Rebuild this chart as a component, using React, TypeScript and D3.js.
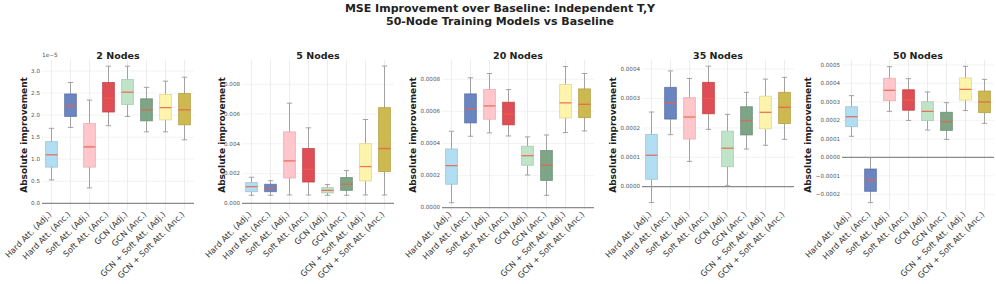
import React from "react";
import * as d3 from "d3";

const categories = [
  "Hard Att. (Adj.)",
  "Hard Att. (Anc.)",
  "Soft Att. (Adj.)",
  "Soft Att. (Anc.)",
  "GCN (Adj.)",
  "GCN (Anc.)",
  "GCN + Soft Att. (Adj.)",
  "GCN + Soft Att. (Anc.)",
];

const fillColors = ["#a9daf1", "#5b78b9", "#ffc0c7", "#dc3b41", "#b9e1c2", "#6f9b79", "#fff3a3", "#c8b13c"];
const edgeColors = ["#8fb8cc", "#4a64a0", "#e0a3aa", "#b83035", "#9cc2a4", "#5b8165", "#d9cd86", "#a69230"];

const panelTitles = ["2 Nodes", "5 Nodes", "20 Nodes", "35 Nodes", "50 Nodes"];

// [whisker low, Q1, median, Q3, whisker high]
const nodes2Stats = [
  [0.53e-5, 0.82e-5, 1.1e-5, 1.4e-5, 1.7e-5],
  [1.72e-5, 1.97e-5, 2.21e-5, 2.48e-5, 2.74e-5],
  [0.35e-5, 0.82e-5, 1.28e-5, 1.81e-5, 2.34e-5],
  [1.76e-5, 2.07e-5, 2.38e-5, 2.74e-5, 3.11e-5],
  [1.97e-5, 2.24e-5, 2.52e-5, 2.81e-5, 3.11e-5],
  [1.62e-5, 1.87e-5, 2.12e-5, 2.37e-5, 2.63e-5],
  [1.62e-5, 1.89e-5, 2.17e-5, 2.47e-5, 2.77e-5],
  [1.44e-5, 1.78e-5, 2.12e-5, 2.49e-5, 2.86e-5],
];
const nodes5Stats = [
  [0.00054, 0.00078, 0.00112, 0.00139, 0.00175],
  [0.00054, 0.00078, 0.00101, 0.00128, 0.00152],
  [0.00056, 0.0017, 0.00285, 0.0048, 0.00673],
  [0.00056, 0.00143, 0.00229, 0.00368, 0.00507],
  [0.00054, 0.0007, 0.00087, 0.00105, 0.00126],
  [0.00054, 0.00087, 0.00128, 0.00173, 0.0022],
  [0.00056, 0.0015, 0.00247, 0.00401, 0.00563],
  [0.00056, 0.00213, 0.00368, 0.00643, 0.00922],
];
const nodes20Stats = [
  [0.000031, 0.000146, 0.000262, 0.000366, 0.000476],
  [0.000445, 0.000528, 0.000615, 0.000709, 0.000809],
  [0.000466, 0.000551, 0.000634, 0.000736, 0.000836],
  [0.000447, 0.000516, 0.000582, 0.000657, 0.000736],
  [0.000204, 0.000264, 0.000324, 0.000383, 0.000441],
  [0.000077, 0.00017, 0.000264, 0.000356, 0.000453],
  [0.000468, 0.000559, 0.000653, 0.000767, 0.000879],
  [0.000478, 0.000561, 0.000644, 0.00074, 0.000836],
];
const nodes35Stats = [
  [-0.000054, 0.000025, 0.000107, 0.000178, 0.000254],
  [0.000177, 0.00023, 0.000284, 0.000338, 0.000394],
  [0.000086, 0.000162, 0.000237, 0.000303, 0.000368],
  [0.000195, 0.000248, 0.0003, 0.000355, 0.00041],
  [0.000003, 0.000068, 0.000131, 0.000189, 0.000246],
  [0.000128, 0.000176, 0.000225, 0.000272, 0.000321],
  [0.000141, 0.000197, 0.000253, 0.000308, 0.000366],
  [0.000161, 0.000215, 0.00027, 0.000321, 0.000372],
];
const nodes50Stats = [
  [0.000114, 0.000166, 0.00022, 0.000274, 0.000334],
  [-0.000245, -0.000184, -0.000123, -0.000063, -0.000002],
  [0.000249, 0.000307, 0.000363, 0.000428, 0.000491],
  [0.0002, 0.000255, 0.00031, 0.000366, 0.000426],
  [0.000148, 0.000199, 0.000249, 0.000301, 0.000354],
  [0.000097, 0.000146, 0.000193, 0.000244, 0.000296],
  [0.000253, 0.00031, 0.000368, 0.00043, 0.000493],
  [0.000184, 0.000242, 0.0003, 0.000359, 0.000422],
];
const panelStats = [nodes2Stats, nodes5Stats, nodes20Stats, nodes35Stats, nodes50Stats];

const yDomains = [
  [-0.152e-5, 3.25e-5],
  [-0.00045, 0.00963],
  [-0.0000143, 0.00092],
  [-0.0000793, 0.000431],
  [-0.000285, 0.000527],
];

const yTickValues = [
  [0, 0.5e-5, 1e-5, 1.5e-5, 2e-5, 2.5e-5, 3e-5],
  [0, 0.002, 0.004, 0.006, 0.008],
  [0, 0.0002, 0.0004, 0.0006, 0.0008],
  [0, 0.0001, 0.0002, 0.0003, 0.0004],
  [-0.0002, -0.0001, 0, 0.0001, 0.0002, 0.0003, 0.0004, 0.0005],
];
const yTickLabels = [
  ["0.0", "0.5", "1.0", "1.5", "2.0", "2.5", "3.0"],
  ["0.000", "0.002", "0.004", "0.006", "0.008"],
  ["0.0000", "0.0002", "0.0004", "0.0006", "0.0008"],
  ["0.0000", "0.0001", "0.0002", "0.0003", "0.0004"],
  ["\u22120.0002", "\u22120.0001", "0.0000", "0.0001", "0.0002", "0.0003", "0.0004", "0.0005"],
];
const offsetLabels = ["1e\u22125", "", "", "", ""];
const yLabelOffsets = [15, 17, 26, 26, 31];

const W = 996;
const H = 284;
const axTop = 60;
const axBottom = 210;
const axWidth = 152;
const axLeft0 = 42;
const axStep = 200;
const FONT = "DejaVu Sans, sans-serif";

function Panel({ idx }: { idx: number }) {
  const left = axLeft0 + idx * axStep;
  const x = d3
    .scaleBand<string>()
    .domain(categories)
    .range([left, left + axWidth])
    .paddingInner(0)
    .paddingOuter(0);
  const y = d3.scaleLinear().domain(yDomains[idx]).range([axBottom, axTop]);
  const stats = panelStats[idx];
  const bw = x.bandwidth() * 0.62;
  const cw = bw * 0.45;
  return (
    <g>
      {yTickValues[idx].map((t, i) => (
        <line key={"hg" + i} x1={left} x2={left + axWidth} y1={y(t)} y2={y(t)} stroke="#f0f0f0" strokeWidth={0.8} />
      ))}
      {categories.map((c) => {
        const cx = (x(c) as number) + x.bandwidth() / 2;
        return <line key={"vg" + c} x1={cx} x2={cx} y1={axTop} y2={axBottom} stroke="#e9e9e9" strokeWidth={0.8} />;
      })}
      <line x1={left} x2={left + axWidth} y1={y(0)} y2={y(0)} stroke="#8c8c8c" strokeWidth={1.3} />
      {stats.map((s, i) => {
        const cx = (x(categories[i]) as number) + x.bandwidth() / 2;
        const [lo, q1, med, q3, hi] = s;
        return (
          <g key={"b" + i}>
            <line x1={cx} x2={cx} y1={y(hi)} y2={y(q3)} stroke="#9a9a9a" strokeWidth={0.9} />
            <line x1={cx} x2={cx} y1={y(q1)} y2={y(lo)} stroke="#9a9a9a" strokeWidth={0.9} />
            <line x1={cx - cw / 2} x2={cx + cw / 2} y1={y(hi)} y2={y(hi)} stroke="#9a9a9a" strokeWidth={0.9} />
            <line x1={cx - cw / 2} x2={cx + cw / 2} y1={y(lo)} y2={y(lo)} stroke="#9a9a9a" strokeWidth={0.9} />
            <rect
              x={cx - bw / 2}
              y={y(q3)}
              width={bw}
              height={y(q1) - y(q3)}
              fill={fillColors[i]}
              fillOpacity={0.9}
              stroke={edgeColors[i]}
              strokeOpacity={0.7}
              strokeWidth={0.9}
            />
            <line x1={cx - bw / 2} x2={cx + bw / 2} y1={y(med)} y2={y(med)} stroke="#e8604c" strokeOpacity={0.85} strokeWidth={1.3} />
          </g>
        );
      })}
      {yTickValues[idx].map((t, i) => (
        <text key={"yt" + i} x={left - 2} y={y(t)} dy="0.32em" textAnchor="end" fontSize={5.6} fill="#555" fontFamily={FONT}>
          {yTickLabels[idx][i]}
        </text>
      ))}
      {offsetLabels[idx] && (
        <text x={left} y={axTop - 3} fontSize={5.8} fill="#555" fontFamily={FONT}>
          {offsetLabels[idx]}
        </text>
      )}
      {categories.map((c) => {
        const cx = (x(c) as number) + x.bandwidth() / 2;
        return (
          <text
            key={"xt" + c}
            transform={`translate(${cx + 0.5},${axBottom + 5}) rotate(-45)`}
            textAnchor="end"
            fontSize={8.2}
            fill="#333"
            fontFamily={FONT}
          >
            {c}
          </text>
        );
      })}
      <text
        transform={`translate(${left - yLabelOffsets[idx]},${(axTop + axBottom) / 2}) rotate(-90)`}
        textAnchor="middle"
        fontSize={9}
        fontWeight="bold"
        fill="#222"
        fontFamily={FONT}
      >
        Absolute improvement
      </text>
      <text x={left + axWidth / 2} y={axTop - 1.5} textAnchor="middle" fontSize={9.5} fontWeight="bold" fill="#222" fontFamily={FONT}>
        {panelTitles[idx]}
      </text>
    </g>
  );
}

export default function App() {
  return (
    <svg width={W} height={H} style={{ position: "absolute", left: 0, top: 0, background: "#fff" }}>
      <rect width={W} height={H} fill="#fff" />
      <text x={500} y={12} textAnchor="middle" fontSize={11} fontWeight="bold" fill="#222" fontFamily={FONT}>
        MSE Improvement over Baseline: Independent T,Y
      </text>
      <text x={500} y={24.5} textAnchor="middle" fontSize={11} fontWeight="bold" fill="#222" fontFamily={FONT}>
        50-Node Training Models vs Baseline
      </text>
      {panelTitles.map((t, i) => (
        <Panel key={t} idx={i} />
      ))}
    </svg>
  );
}
